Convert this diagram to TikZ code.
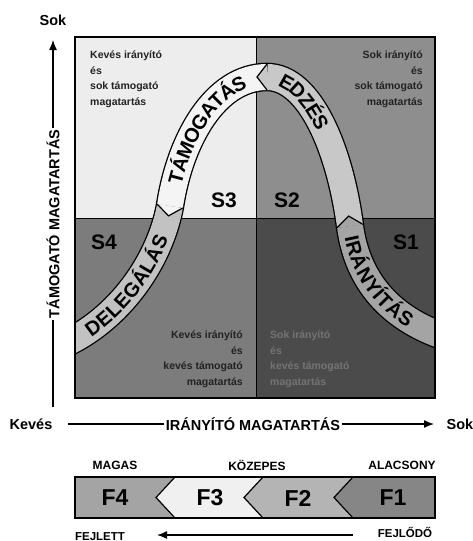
\documentclass[tikz,border=0pt]{standalone}
\usepackage{fontspec}
\setmainfont{Liberation Sans}
\usetikzlibrary{arrows.meta,decorations.text}

% colours of the quadrants, the band and the bar
\definecolor{quadTL}{HTML}{EDEDED}
\definecolor{quadTR}{HTML}{8E8E8E}
\definecolor{quadBL}{HTML}{7C7C7C}
\definecolor{quadBR}{HTML}{4B4B4B}
\definecolor{qtxt}{HTML}{222222}
\definecolor{qtxtDim}{HTML}{747474}
\definecolor{delCol}{HTML}{C2C2C2}
\definecolor{tamCol}{HTML}{F4F4F4}
\definecolor{edzCol}{HTML}{C8C8C8}
\definecolor{iraCol}{HTML}{A4A4A4}
\definecolor{barF4}{HTML}{A4A4A4}
\definecolor{barF3}{HTML}{F0F0F0}
\definecolor{barF2}{HTML}{B4B4B4}
\definecolor{barF1}{HTML}{868686}

\newcommand{\axisfont}{\fontsize{14.5}{16}\selectfont\bfseries}
\newcommand{\bandfont}{\fontsize{20}{20}\selectfont\bfseries}
\newcommand{\quadfont}{\fontsize{10.5}{15.5}\selectfont\bfseries}

\begin{document}
\begin{tikzpicture}[x=1pt, y=-1pt,
    axislabel/.style={font=\axisfont},
    qtext/.style={font=\quadfont, text=qtxt, inner sep=0pt},
    slabel/.style={font=\fontsize{21}{21}\selectfont\bfseries},
    flabel/.style={font=\fontsize{23}{23}\selectfont\bfseries},
    barlabel/.style={font=\fontsize{12}{14}\selectfont\bfseries},
    smalllabel/.style={font=\fontsize{11.5}{13}\selectfont\bfseries, inner sep=0pt},
    band/.style={line width=26pt},
    band text/.style 2 args={postaction={decorate, decoration={text along path,
        text={|\bandfont|#1}, text align={#2}, raise=-7.2pt}}},
    hd/.style={pos=0, sloped, allow upside down, minimum width=20pt,
        minimum height=26pt, inner sep=0pt, outer sep=0pt},
    axis arrow/.style={line width=1.3pt, -{Latex[length=10pt,width=8pt]}}]
    \useasboundingbox (0,0) rectangle (473,541);

    % Draw the quadrants
    \fill[quadTL] (75,37) rectangle (256,218);
    \fill[quadTR] (256,37) rectangle (435,218);
    \fill[quadBL] (75,218) rectangle (256,398);
    \fill[quadBR] (256,218) rectangle (435,398);
    \draw[line width=0.8pt] (75,218) -- (435,218);
    \draw[line width=0.8pt] (256,37) -- (256,398);

    % Texts of the quadrants
    \node[qtext, anchor=north west, align=left] (txtTL) at (90,51)
        {Kevés irányító\\és\\sok támogató\\magatartás};
    \node[qtext, anchor=north east, align=right] (txtTR) at (423,51)
        {Sok irányító\\és\\sok támogató\\magatartás};
    \node[qtext, anchor=north east, align=right] (txtBL) at (243,331)
        {Kevés irányító\\és\\kevés támogató\\magatartás};
    \node[qtext, anchor=north west, align=left, text=qtxtDim] (txtBR) at (270,331)
        {Sok irányító\\és\\kevés támogató\\magatartás};

    % Labels S1 - S4
    \node[slabel] (s3) at (224,200) {S3};
    \node[slabel] (s2) at (287,200) {S2};
    \node[slabel] (s4) at (104,242) {S4};
    \node[slabel] (s1) at (406,242) {S1};

    % The band, cut at the box
    \begin{scope}
        \clip (75,37) rectangle (435,398);
        \coordinate (bL) at (60,346);
        \coordinate (j1) at (170,206);
        \coordinate (j2) at (267,77);
        \coordinate (j3) at (350,226);
        \coordinate (bR) at (452,339);
        \draw[line width=28.6pt] (bL) .. controls (120,320) and (160,260) .. (j1)
            .. controls (180,140) and (215,77) .. (j2)
            .. controls (310,77) and (340,150) .. (j3)
            .. controls (356,272) and (382,318) .. (bR);
        \draw[band, draw=delCol, band text={DELEGÁLÁS}{center}]
            (bL) .. controls (120,320) and (160,260) .. (j1);
        \draw[band, draw=tamCol, band text={TÁMOGATÁS}{center}]
            (j1) .. controls (180,140) and (215,77) .. (j2) node[hd] (h2) {};
        \draw[band, draw=edzCol, band text={EDZÉS}{left, left indent=14pt}]
            (j2) .. controls (310,77) and (340,150) .. (j3) node[hd] (h3) {};
        \draw[band, draw=iraCol, band text={IRÁNYÍTÁS}{left, left indent=10pt}]
            (j3) .. controls (356,272) and (382,318) .. (bR) node[hd] (h4) {};

        % Arrow heads between the parts
        \fill[tamCol] (h2.north) -- (h2.west) -- (h2.south) -- cycle;
        \draw[line width=1.2pt] (h2.north) -- (h2.west) -- (h2.south);
        \fill[edzCol] (h3.north) -- (h3.west) -- (h3.south) -- cycle;
        \draw[line width=1.2pt] (h3.north) -- (h3.west) -- (h3.south);
        \fill[iraCol] (h4.north) -- (h4.west) -- (h4.south) -- cycle;
        \draw[line width=1.2pt] (h4.north) -- (h4.west) -- (h4.south);
    \end{scope}

    % Frame of the box
    \draw[line width=2.5pt] (75,37) rectangle (435,398);

    % Vertical axis
    \node[axislabel] (sokY) at (53,20) {Sok};
    \coordinate (yTop) at (53,40);
    \coordinate (yBot) at (53,407);
    \node[axislabel, rotate=90, fill=white, inner sep=1.5pt] (yLab) at (53,224) {TÁMOGATÓ MAGATARTÁS};
    \draw[line width=1.3pt] (yBot) -- (yLab.west);
    \draw[axis arrow] (yLab.east) -- (yTop);

    % Horizontal axis
    \node[axislabel] (kevX) at (31,424) {Kevés};
    \node[axislabel] (sokX) at (460,424) {Sok};
    \coordinate (xSt) at (68,424);
    \coordinate (xTip) at (434,424);
    \node[axislabel, fill=white, inner sep=1.5pt] (xLab) at (253,424) {IRÁNYÍTÓ MAGATARTÁS};
    \draw[line width=1.3pt] (xSt) -- (xLab.west);
    \draw[axis arrow] (xLab.east) -- (xTip);

    % Bar of the levels
    \node[barlabel] (magas) at (115,465) {MAGAS};
    \node[barlabel] (kozepes) at (257,465) {KÖZEPES};
    \node[barlabel] (alacsony) at (402,465) {ALACSONY};
    \fill[barF4] (75,477) rectangle (435,518);
    \foreach \x/\c in {175/barF3, 263/barF2, 353/barF1} {
        \fill[\c] (\x,477) -- (\x-19,497.5) -- (\x,518) -- (435,518) -- (435,477) -- cycle;
        \draw[line width=1.2pt] (\x,477) -- (\x-19,497.5) -- (\x,518);
    }
    \draw[line width=2.2pt] (75,477) rectangle (435,518);
    \node[flabel] (f4) at (115,498) {F4};
    \node[flabel] (f3) at (210,498) {F3};
    \node[flabel] (f2) at (298,498) {F2};
    \node[flabel] (f1) at (393,498) {F1};

    % Arrow under the bar
    \node[smalllabel, anchor=base] (fejlett) at (100,540) {FEJLETT};
    \node[smalllabel, anchor=base] (fejlodo) at (405,537) {FEJLŐDŐ};
    \coordinate (dSt) at (353,535);
    \coordinate (dEnd) at (157,535);
    \draw[axis arrow] (dSt) -- (dEnd);
\end{tikzpicture}
\end{document}
